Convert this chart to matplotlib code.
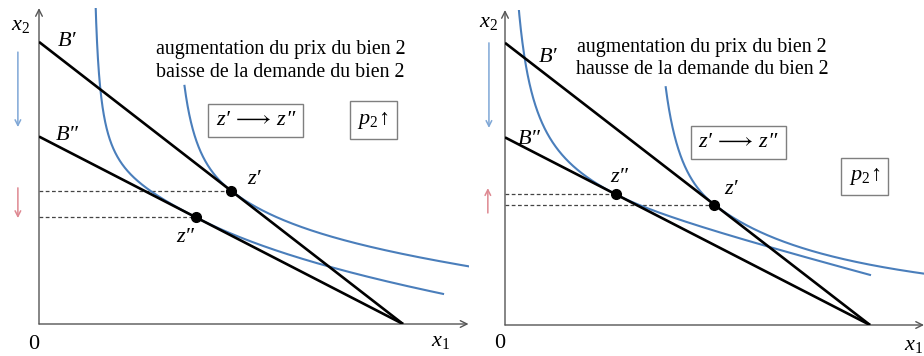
import numpy as np
import matplotlib
matplotlib.use("Agg")
import matplotlib.pyplot as plt

plt.rcParams.update({
    "font.family": ["Liberation Serif", "DejaVu Serif"],
    "mathtext.fontset": "custom",
    "mathtext.rm": "Liberation Serif",
    "mathtext.it": "Liberation Serif:italic",
    "mathtext.bf": "Liberation Serif:bold",
})

# ---- data ---------------------------------------------------------------
x_intercept = 10.0                      # both budget lines end here on x1

# left panel: budget lines B', B'' (x2 intercepts) and tangency x of z', z''
left_budget_y = [7.75, 5.15]
left_z_x = [5.27, 4.31]
# indifference-curve shape (K, a) left and right of each tangency point
left_shape_lo = [(0.58, 3.5), (0.09, 1.4)]
left_shape_hi = [(0.673, 2.17), (0.396, -2.0)]
left_curve_top = [6.55, 99.0]
left_curve_end = [11.84, 11.1]

# right panel
right_budget_y = [7.73, 5.14]
right_z_x = [5.73, 3.04]
right_shape_lo = [(0.75, 3.8), (0.25, -0.1)]
right_shape_hi = [(0.77, 1.5), (0.255, 1.0)]
right_curve_top = [6.52, 99.0]
right_curve_end = [11.48, 10.0]

budget_labels = ["B\u2032", "B\u2033"]
point_labels = ["z\u2032", "z\u2033"]
line1 = "augmentation du prix du bien 2"
left_line2 = "baisse de la demande du bien 2"
right_line2 = "hausse de la demande du bien 2"

# ---- styling ------------------------------------------------------------
W, H = 924, 356
BLUE = "#4A7EBB"
ARROW_BLUE = "#7FA7D6"
ARROW_RED = "#DE8891"
AXIS = "#555555"
MATH = 16
TXT = 14.3

fig = plt.figure(figsize=(W / 100, H / 100), dpi=100)


def budget(x, y_int):
    return y_int * (1 - x / x_intercept)


def indifference(x, x0, y_int, K, a):
    # budget line through the tangency point plus a convex bend that
    # vanishes (value and slope) at x0
    return budget(x, y_int) + K * (x - x0) ** 2 / (x - a)


def make_panel(ox, oy, scale, xmax, ymax):
    ax = fig.add_axes([ox / W, 1 - oy / H, xmax * scale / W, ymax * scale / H])
    ax.set_xlim(0, xmax)
    ax.set_ylim(0, ymax)
    ax.axis("off")
    arrow = dict(arrowstyle="->", color=AXIS, lw=1.0, shrinkA=0, shrinkB=0,
                 mutation_scale=12)
    ax.annotate("", xy=(xmax, 0), xytext=(0, 0), arrowprops=arrow,
                annotation_clip=False)
    ax.annotate("", xy=(0, ymax), xytext=(0, 0), arrowprops=arrow,
                annotation_clip=False)
    return ax


def draw(ax, budget_y, z_x, shape_lo, shape_hi, tops, ends):
    for yi in budget_y:
        ax.plot([0, x_intercept], [yi, 0], color="black", lw=1.9,
                solid_capstyle="butt", zorder=3)
    for yi, x0, (kl, al), (kh, ah), top, end in zip(
            budget_y, z_x, shape_lo, shape_hi, tops, ends):
        xl = np.linspace(al + 1e-3, x0, 600)
        yl = indifference(xl, x0, yi, kl, al)
        keep = yl <= top
        xh = np.linspace(x0, end, 400)
        yh = indifference(xh, x0, yi, kh, ah)
        xs = np.concatenate([xl[keep], xh])
        ys = np.concatenate([yl[keep], yh])
        ax.plot(xs, ys, color=BLUE, lw=1.5, zorder=2)
        y0 = budget(x0, yi)
        ax.plot([0, x0], [y0, y0], color="#444444", lw=0.9,
                ls=(0, (3, 2)), zorder=1)
        ax.plot(x0, y0, "o", color="black", ms=7, zorder=5)


def small_arrow(ax, x, y_from, y_to, color):
    ax.annotate("", xy=(x, y_to), xytext=(x, y_from),
                arrowprops=dict(arrowstyle="->", color=color, lw=1.1,
                                shrinkA=0, shrinkB=0, mutation_scale=10),
                annotation_clip=False)


def label(ax, x, y, s, italic=True, **kw):
    ax.text(x, y, s, fontsize=MATH, ha="center", va="center",
            style="italic" if italic else "normal", clip_on=False, **kw)


def move_box(ax, x, y):
    # "z' -> z''" inside a framed box, with an upright arrow
    ax.text(x, y, "z\u2032$\\,\\longrightarrow\\,$z\u2033", fontsize=MATH,
            ha="center", va="center", style="italic",
            bbox=dict(boxstyle="square,pad=0.32", fc="white",
                      ec="#7F7F7F", lw=1.0))


box = dict(boxstyle="square,pad=0.35", fc="white", ec="#7F7F7F", lw=1.0)

# ---- left panel ---------------------------------------------------------
axL = make_panel(39, 324, 36.4, 11.8, 8.68)
draw(axL, left_budget_y, left_z_x, left_shape_lo, left_shape_hi,
     left_curve_top, left_curve_end)
label(axL, -0.52, 8.19, "$x_2$", italic=False)
label(axL, 11.02, -0.49, "$x_1$", italic=False)
label(axL, -0.14, -0.55, "0", italic=False)
label(axL, 0.78, 7.75, budget_labels[0])
label(axL, 0.78, 5.19, budget_labels[1])
label(axL, 5.91, 3.96, point_labels[0])
label(axL, 4.01, 2.39, point_labels[1])
axL.text(6.63, 7.55, line1, fontsize=TXT, ha="center", va="center")
axL.text(6.63, 6.90, left_line2, fontsize=TXT, ha="center", va="center")
move_box(axL, 5.96, 5.58)
label(axL, 9.18, 5.60, r"$p_2\!\uparrow$", italic=False, bbox=box)
small_arrow(axL, -0.58, 7.47, 5.41, ARROW_BLUE)
small_arrow(axL, -0.58, 3.74, 2.91, ARROW_RED)

# ---- right panel --------------------------------------------------------
axR = make_panel(505, 325, 36.5, 11.48, 8.63)
draw(axR, right_budget_y, right_z_x, right_shape_lo, right_shape_hi,
     right_curve_top, right_curve_end)
label(axR, -0.44, 8.30, "$x_2$", italic=False)
label(axR, 11.18, -0.55, "$x_1$", italic=False)
label(axR, -0.14, -0.52, "0", italic=False)
label(axR, 1.18, 7.32, budget_labels[0])
label(axR, 0.66, 5.07, budget_labels[1])
label(axR, 6.19, 3.70, point_labels[0])
label(axR, 3.12, 4.03, point_labels[1])
axR.text(5.40, 7.59, line1, fontsize=TXT, ha="center", va="center")
axR.text(5.40, 6.99, right_line2, fontsize=TXT, ha="center", va="center")
move_box(axR, 6.40, 5.01)
label(axR, 9.85, 4.07, r"$p_2\!\uparrow$", italic=False, bbox=box)
small_arrow(axR, -0.44, 7.73, 5.40, ARROW_BLUE)
small_arrow(axR, -0.47, 3.07, 3.75, ARROW_RED)

fig.savefig("out.png", dpi=100)
